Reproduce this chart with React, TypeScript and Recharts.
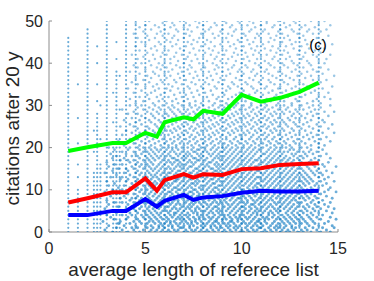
import React from 'react';
import { ScatterChart, Scatter, XAxis, YAxis } from 'recharts';

const FONT = '"Liberation Sans", Arial, Helvetica, sans-serif';
const DOT = '#0072BD';

// percentile curves
const trendX = [1, 2, 3.3, 4, 5, 5.6, 6, 7, 7.5, 8, 9, 10, 11, 12, 13, 14];
const upperY = [19.2, 20.1, 21.1, 21.1, 23.5, 22.6, 26.0, 27.2, 26.7, 28.7, 28.0, 32.5, 30.9, 31.8, 33.2, 35.4];
const middleY = [7.0, 8.0, 9.4, 9.4, 12.7, 9.8, 12.3, 13.7, 12.9, 13.7, 13.5, 14.9, 15.1, 15.9, 16.1, 16.3];
const lowerY = [4.0, 4.0, 5.0, 5.0, 7.8, 6.0, 7.4, 8.8, 7.6, 8.2, 8.5, 9.3, 9.8, 9.6, 9.6, 9.8];

const xTicks = [0, 5, 10, 15];
const yTicks = [0, 10, 20, 30, 40, 50];

// papers sitting exactly on short list lengths: integer citation counts up to a top value
const citeLevels = [0, 1, 2, 3, 4, 5, 6, 7, 8, 9, 10, 11, 12, 13, 14, 15, 16, 17, 18, 19, 20, 21, 22, 23, 24, 25,
  26, 27, 28, 29, 30, 31, 32, 33, 34, 35, 36, 37, 38, 39, 40, 41, 42, 43, 44, 45, 46, 47, 48, 49, 50];
const columnX = [1, 1.5, 2, 2.33, 2.5, 2.67, 3, 3.33, 3.5, 3.67, 4, 4.5, 5, 6, 7, 8, 9, 10, 11, 12, 13, 14];
const columnTop = [46, 10, 48, 14, 28, 16, 50, 20, 38, 22, 50, 50, 50, 50, 50, 50, 50, 50, 50, 50, 50, 50];
const columnExtra = [[], [13, 16, 21, 27, 35], [], [19, 24], [31, 35, 40, 44], [22, 30], [], [26, 33], [41, 45], [29, 37],
  [], [], [], [], [], [], [], [], [], [], [], []];

// the rest of the cloud, list length in tenths, one row every half citation
const cloudRowStep = 0.5;
const cloudTenths = [
  [33,41,47,52,55,58,61,63,66,70,72,75,78,81,83,86,90,92,95,99,101,104,107,111,113,116,120,123,125,129,132,136,141,146],
  [29,38,44,49,53,56,59,62,65,67,71,74,76,79,82,85,88,91,94,97,100,103,106,108,112,115,118,121,124,127,131,134,139,144],
  [35,43,46,51,54,57,60,64,68,69,73,77,80,84,87,89,93,96,98,102,105,109,110,114,117,119,122,126,128,133,137,142,148],
  [31,39,45,50,53,57,59,62,64,67,70,73,75,79,81,84,86,89,92,94,97,99,103,106,108,111,115,118,120,123,126,130,135,140,147],
  [36,42,48,51,55,58,60,63,66,68,72,74,77,80,82,85,88,91,93,96,100,102,104,107,110,113,116,119,122,125,128,131,134,138,143],
  [28,37,44,47,52,54,57,61,63,65,69,71,74,76,79,83,86,87,90,94,95,98,101,105,108,109,112,117,121,124,127,130,133,137,145],
  [34,40,46,50,53,56,59,62,66,68,70,73,76,78,81,84,87,90,92,95,98,100,103,106,109,112,114,118,120,123,126,129,132,136,141,149],
  [32,41,45,49,52,55,58,61,64,67,69,72,75,78,80,83,85,88,91,94,97,99,102,104,107,111,113,116,119,122,125,128,131,135,139,146],
  [30,38,43,48,51,54,57,60,63,65,68,71,73,77,79,82,86,89,91,93,96,99,101,105,108,110,114,117,121,124,127,130,134,137,142],
  [35,42,46,50,53,56,58,62,65,66,69,72,75,77,80,83,85,88,90,94,97,100,103,106,108,111,114,116,119,123,126,129,132,136,140,147],
  [33,39,45,49,52,55,59,61,63,67,70,74,76,79,81,84,87,89,92,95,98,101,104,107,109,112,115,118,120,124,127,131,134,138,144],
  [29,40,44,47,51,54,57,60,64,66,68,71,73,76,78,82,85,88,90,93,96,99,102,105,108,110,113,117,119,122,125,128,133,137,141,148],
  [36,43,48,52,55,58,61,62,65,69,72,74,77,80,83,86,87,91,94,97,100,101,104,107,111,114,116,120,123,126,129,132,135,139,145],
  [31,41,46,50,53,56,59,63,66,68,70,73,75,79,82,84,88,90,93,95,98,102,105,106,109,112,115,118,121,124,127,130,134,138,143],
  [34,38,44,49,51,54,57,60,62,64,67,71,74,76,78,81,85,87,89,92,96,99,101,103,107,110,113,117,119,122,125,129,131,136,140,146],
  [30,42,47,50,53,55,58,61,65,67,70,72,75,77,80,83,86,89,91,94,97,100,103,106,108,111,114,116,120,123,126,128,133,137,142],
  [37,43,45,48,52,56,59,62,64,66,69,73,76,79,81,84,85,88,92,95,98,99,102,105,109,112,115,118,121,124,127,130,132,135,139,147],
  [32,39,46,51,54,57,60,63,65,68,71,74,77,78,82,86,89,90,93,96,100,101,104,107,110,113,116,119,122,125,128,131,134,138,144],
  [35,41,44,49,52,55,58,61,64,67,69,72,75,78,80,83,87,88,91,94,97,99,103,106,108,111,114,117,120,123,126,129,133,136,141],
  [29,40,47,50,53,56,59,62,63,66,70,73,74,77,81,84,86,89,92,95,98,102,105,107,110,112,115,118,121,124,127,130,135,139,143,149],
  [33,38,45,48,51,54,57,60,64,67,68,71,75,76,79,82,85,88,90,93,96,100,101,104,109,113,116,119,122,125,128,132,134,137,145],
  [36,42,46,50,53,57,59,62,65,66,69,72,74,78,80,83,86,87,91,94,97,99,103,106,108,111,114,117,120,123,126,129,131,136,140,146],
  [31,39,44,49,52,55,58,61,63,67,70,73,76,79,81,84,88,89,92,95,98,101,104,107,110,112,115,118,121,124,127,130,133,138,142],
  [34,43,47,51,54,56,60,62,64,68,71,74,75,77,82,85,86,90,93,96,99,102,105,108,109,113,116,119,122,125,128,132,135,139,144],
  [30,40,45,48,52,55,58,61,65,66,69,72,76,78,80,83,87,89,91,94,97,100,103,106,111,114,117,120,123,126,129,131,134,137,141,148],
  [37,41,46,50,53,57,59,63,66,67,70,73,74,77,81,84,85,88,92,95,98,101,104,107,110,112,115,118,121,124,127,130,133,136,143],
  [32,38,44,49,51,54,56,60,62,64,68,71,75,79,82,86,89,90,93,96,99,102,105,108,109,113,116,119,122,125,128,132,135,140,145],
  [35,42,47,50,53,55,58,61,65,67,69,72,76,78,80,83,84,87,91,94,97,100,103,106,111,114,117,120,123,126,129,131,134,138,142],
  [29,39,45,48,52,56,59,62,63,66,70,73,74,77,81,85,88,90,92,95,98,101,104,107,110,112,115,118,121,124,127,130,133,137,141,147],
  [33,41,46,51,54,57,60,64,67,68,71,75,78,79,82,86,87,89,93,96,99,102,105,108,109,113,116,119,122,125,128,132,136,139,144],
  [36,40,44,49,53,55,58,61,63,65,69,72,76,77,80,84,85,88,91,94,97,100,103,106,110,111,114,117,120,123,126,129,131,135,140],
  [31,43,47,50,52,56,59,62,66,68,70,73,74,78,81,83,87,89,92,95,98,101,104,107,108,112,115,118,121,124,127,130,134,138,143,149],
  [34,38,45,48,51,54,57,60,64,67,69,71,75,79,82,86,88,90,93,96,99,102,105,109,113,116,119,122,125,128,133,137,142],
  [30,42,46,50,53,58,61,63,65,68,72,74,76,80,83,84,87,91,94,97,100,103,106,110,111,114,117,120,123,126,131,135,145],
  [37,41,44,49,52,55,59,62,66,67,70,73,77,78,81,85,89,92,95,98,101,104,107,108,112,115,118,121,124,127,130,136,140],
  [33,39,47,51,54,57,60,64,65,69,71,75,76,79,82,86,88,90,93,96,99,102,105,109,113,116,119,122,125,129,132,138,146],
  [35,43,46,50,53,56,58,61,63,67,70,72,74,78,80,84,87,89,91,94,97,100,103,106,110,114,117,120,123,127,131,134,141],
  [32,40,45,48,52,55,59,62,66,68,71,73,77,79,83,85,88,92,95,98,101,104,107,111,112,115,118,121,126,128,133,137,144],
  [38,44,49,51,54,57,60,63,65,69,72,75,76,80,82,86,89,90,93,96,99,102,105,108,113,116,119,122,124,129,132,135,139],
  [34,41,47,50,53,56,58,61,64,67,70,74,77,78,81,84,87,91,94,97,100,103,106,109,110,114,117,120,125,127,130,136,142],
  [31,42,46,49,52,55,59,62,64,66,69,72,75,79,81,85,88,90,92,95,98,101,104,107,111,115,118,121,123,126,131,134,140],
  [39,47,53,58,62,66,70,74,78,82,86,90,93,97,101,105,109,113,117,121,125,130,136,143],
  [44,50,55,60,64,68,72,76,80,84,88,91,95,99,103,107,111,115,119,123,128,133,140],
  [36,48,52,57,61,65,69,73,77,81,85,89,94,98,102,106,110,114,118,122,127,131,138,146],
  [42,46,54,59,63,67,71,75,79,83,87,92,96,100,104,108,112,116,120,124,129,135,141],
  [45,51,56,60,65,68,73,76,81,84,89,92,97,100,105,109,113,117,121,126,132,137,144],
  [38,49,53,58,62,67,70,74,78,83,86,90,94,99,102,106,111,114,119,123,128,134,139],
  [43,47,55,59,64,69,72,77,80,85,88,93,96,101,104,108,112,116,120,125,130,136,142,148],
  [40,50,54,61,63,66,71,75,79,82,87,91,95,98,103,107,110,115,118,122,127,133,140],
  [46,52,57,60,65,68,73,76,81,84,89,92,97,100,105,109,113,117,121,126,131,137,145],
  [37,44,51,56,62,67,70,74,78,83,86,90,94,99,102,106,111,114,119,124,129,135,141],
  [42,48,55,59,64,69,72,77,80,85,88,93,96,101,104,108,112,116,120,123,128,132,139,147],
  [45,53,58,61,66,71,75,79,82,87,91,95,98,103,107,110,115,118,122,127,134,143],
  [39,47,52,57,63,68,73,76,81,84,89,92,97,100,105,109,113,117,121,125,130,136,142],
  [43,50,55,60,64,67,70,74,78,83,86,90,94,99,102,106,111,114,119,124,128,133,140],
  [48,54,59,62,66,72,77,80,85,88,93,96,101,104,108,112,116,120,126,131,137,145],
  [41,46,53,57,61,65,69,73,76,82,87,91,95,98,103,107,110,115,118,122,127,134,139],
  [44,51,56,60,64,68,71,75,79,84,89,92,97,100,105,109,113,117,121,125,129,136,143,148],
  [38,49,54,58,63,67,72,77,81,86,90,94,99,102,106,111,114,119,123,128,132,138],
  [46,52,57,62,65,70,74,78,83,88,91,96,100,104,108,112,116,120,124,130,135,141],
  [42,48,55,59,64,69,73,76,80,85,89,93,97,101,105,110,113,118,122,126,131,137,146],
  [45,54,61,67,73,79,86,92,98,105,112,119,126,134,141],
  [49,57,64,70,76,83,89,96,102,109,115,122,129,137],
  [42,52,59,66,72,80,87,93,100,106,113,120,128,139,146],
  [47,56,62,69,75,82,88,95,103,110,117,124,131,143],
  [51,58,65,71,78,85,91,97,104,111,118,125,133,140],
  [44,53,60,68,74,81,90,99,107,114,121,127,136,145],
  [48,55,63,70,77,84,92,101,108,116,123,130,138],
  [41,57,61,67,73,80,87,94,100,106,112,119,126,135,142],
  [50,54,64,72,79,86,93,98,105,113,120,128,134,147],
  [46,56,62,69,76,83,90,96,103,110,117,124,132,139],
  [43,52,59,66,74,81,88,95,102,109,115,122,130,141],
  [49,58,65,71,78,85,91,99,106,114,121,127,137,144],
  [45,53,61,68,75,82,89,97,104,111,118,125,133,140],
  [51,57,63,70,77,84,92,100,107,116,123,129,136,148],
  [47,55,60,67,73,80,87,94,101,108,114,121,131,142],
  [42,54,62,69,76,83,90,98,105,112,119,126,134,139],
  [50,58,64,72,79,86,93,99,106,113,120,128,137,145],
  [46,56,61,68,74,81,88,95,103,110,117,124,132,141],
  [44,53,59,66,73,80,87,96,102,109,115,122,129,136],
  [48,57,63,70,78,85,92,100,107,114,121,127,135,143],
  [52,60,67,74,82,89,97,104,112,119,126,134,140],
  [46,55,63,71,77,86,93,101,108,116,123,131,144],
  [49,58,65,72,80,87,95,103,110,117,125,132,139],
  [43,54,61,69,76,84,91,98,106,113,121,129,137,146],
  [51,59,66,73,81,88,96,102,109,118,124,133,141],
  [47,56,62,70,78,85,92,100,107,115,122,130,138],
  [53,60,68,75,83,90,97,105,112,119,127,135,143],
  [45,55,64,71,79,86,94,101,108,116,123,131,140],
  [50,58,66,74,81,89,96,104,111,120,126,134,147],
  [48,57,63,72,77,84,93,99,106,114,121,128,136],
  [52,61,67,75,82,90,98,103,110,117,125,133,142],
  [46,55,64,70,78,86,92,100,107,115,122,130,139],
  [51,59,65,73,80,88,95,102,109,118,124,132,145],
  [44,56,62,71,79,85,93,101,108,114,121,129,137],
  [49,58,67,74,81,89,96,104,111,119,127,134,141],
  [53,60,66,72,83,90,97,105,112,120,126,135,144],
  [47,57,63,70,77,84,94,100,107,116,123,131,138],
  [50,55,65,73,80,87,95,103,110,117,125,133,146],
  [45,59,64,71,78,86,92,99,106,113,122,128,140],
  [52,61,68,76,82,91,98,104,113,119,127,136,143],
];

const columnPoints = columnX.flatMap((x, i) => [
  ...citeLevels.filter((c) => c <= columnTop[i]).map((c) => ({ x, y: c })),
  ...columnExtra[i].map((c) => ({ x, y: c })),
]);
const cloudPoints = cloudTenths.flatMap((row, r) => row.map((t) => ({ x: t / 10, y: r * cloudRowStep })));

const toLine = (ys: number[]) => trendX.map((x, i) => ({ x, y: ys[i] }));

// overlap is much heavier near the bottom of the original, so dots fade gently with height
const CloudDot = (props: any) => {
  const { cx, cy, payload } = props;
  if (cx == null || cy == null) return null;
  const t = Math.min(1, Math.max(0, (payload?.y ?? 0) / 40));
  return <circle cx={cx} cy={cy} r={1.5 - 0.25 * t} fill={DOT} fillOpacity={0.62 - 0.24 * t} />;
};
const ColumnDot = (props: any) => {
  const { cx, cy } = props;
  if (cx == null || cy == null) return null;
  return <circle cx={cx} cy={cy} r={1.1} fill={DOT} fillOpacity={0.6} />;
};
const NoDot = () => null;

const axisStroke = { stroke: '#8c8c8c' };
const tickStyle = { fontSize: 16, fill: '#262626', fontFamily: FONT };

export default function App() {
  return (
    <div style={{ position: 'absolute', left: 0, top: 0, width: 374, height: 281, background: '#fff' }}>
      <ScatterChart width={374} height={281} margin={{ top: 21, right: 36, left: 0, bottom: 0 }}>
        <XAxis
          xAxisId={0}
          type="number"
          dataKey="x"
          domain={[0, 15]}
          ticks={xTicks}
          allowDataOverflow
          height={49}
          tickSize={-3}
          tickMargin={14}
          axisLine={axisStroke}
          tickLine={axisStroke}
          tick={tickStyle}
        />
        <XAxis
          xAxisId="top"
          orientation="top"
          type="number"
          dataKey="x"
          domain={[0, 15]}
          ticks={xTicks}
          allowDataOverflow
          height={0}
          tickSize={-3}
          tickFormatter={() => ''}
          axisLine={axisStroke}
          tickLine={axisStroke}
        />
        <YAxis
          yAxisId={0}
          type="number"
          dataKey="y"
          domain={[0, 50]}
          ticks={yTicks}
          allowDataOverflow
          width={49}
          tickSize={-3}
          tickMargin={9}
          axisLine={axisStroke}
          tickLine={axisStroke}
          tick={tickStyle}
        />
        <YAxis
          yAxisId="right"
          orientation="right"
          type="number"
          dataKey="y"
          domain={[0, 50]}
          ticks={yTicks}
          allowDataOverflow
          width={0}
          tickSize={-3}
          tickFormatter={() => ''}
          axisLine={axisStroke}
          tickLine={axisStroke}
        />
        <Scatter data={cloudPoints} shape={CloudDot} isAnimationActive={false} />
        <Scatter data={columnPoints} shape={ColumnDot} isAnimationActive={false} />
        <Scatter data={toLine(lowerY)} line={{ stroke: '#0000ff', strokeWidth: 4 }} lineType="joint" shape={NoDot} isAnimationActive={false} />
        <Scatter data={toLine(middleY)} line={{ stroke: '#ff0000', strokeWidth: 4 }} lineType="joint" shape={NoDot} isAnimationActive={false} />
        <Scatter data={toLine(upperY)} line={{ stroke: '#00ff00', strokeWidth: 4 }} lineType="joint" shape={NoDot} isAnimationActive={false} />
      </ScatterChart>
      <svg width={374} height={281} style={{ position: 'absolute', left: 0, top: 0, pointerEvents: 'none' }}>
        <text x={193.5} y={275.5} textAnchor="middle" fontSize={19} fill="#262626" fontFamily={FONT}>
          average length of referece list
        </text>
        <text transform="translate(19,128.5) rotate(-90)" textAnchor="middle" fontSize={19} fill="#262626" fontFamily={FONT}>
          citations after 20 y
        </text>
        <text x={318} y={50} textAnchor="middle" fontSize={15} fill="#000" fontFamily={FONT}>
          (c)
        </text>
      </svg>
    </div>
  );
}
